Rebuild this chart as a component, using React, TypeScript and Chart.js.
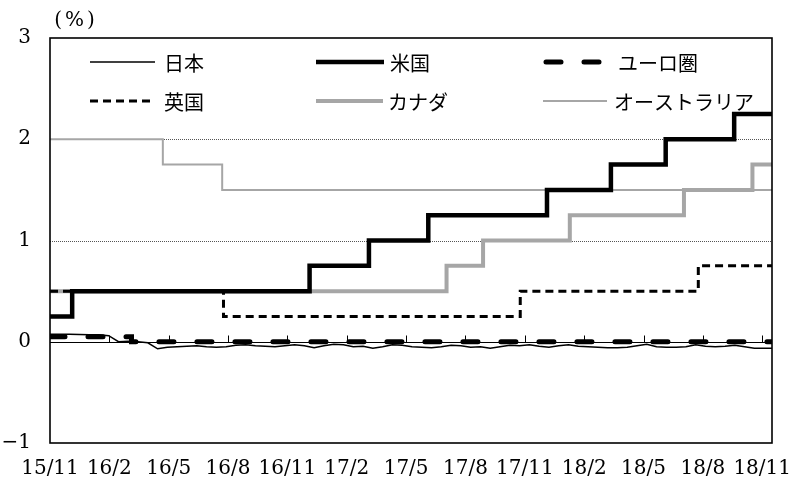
import React, { useEffect, useRef } from 'react';
import { Chart, registerables } from 'chart.js';

Chart.register(...registerables);

// ---------- data ----------
const BASE_DATE = '2015-11-01';
const X_MIN_DATE = '2015-11-12';
const X_MAX_DATE = '2018-11-23';
const TICK_STEP_DAYS = 91;
const X_TICK_LABELS = ['15/11', '16/2', '16/5', '16/8', '16/11', '17/2', '17/5', '17/8', '17/11', '18/2', '18/5', '18/8', '18/11'];
const Y_TICKS = [-1, 0, 1, 2, 3];
const Y_TICK_LABELS = ['−1', '0', '1', '2', '3'];
const Y_UNIT = '(%)';

const SERIES_NAMES = ['日本', '米国', 'ユーロ圏', '英国', 'カナダ', 'オーストラリア'];

// Japan: sampled every 15 days
const JAPAN_START = '2015-11-12';
const JAPAN_STEP_DAYS = 15;
const JAPAN_VALUES = [
  0.075, 0.075, 0.073, 0.072, 0.07, 0.068, 0.06, 0.0, 0.005, 0.0,
  -0.01, -0.07, -0.055, -0.05, -0.045, -0.04, -0.05, -0.055, -0.05, -0.035,
  -0.03, -0.04, -0.045, -0.05, -0.04, -0.03, -0.04, -0.06, -0.04, -0.025,
  -0.03, -0.05, -0.045, -0.065, -0.05, -0.03, -0.035, -0.05, -0.055, -0.06,
  -0.05, -0.035, -0.04, -0.055, -0.05, -0.065, -0.05, -0.035, -0.04, -0.03,
  -0.045, -0.055, -0.04, -0.03, -0.045, -0.05, -0.055, -0.06, -0.06, -0.055,
  -0.04, -0.025, -0.05, -0.055, -0.055, -0.05, -0.03, -0.045, -0.05, -0.045,
  -0.035, -0.05, -0.065, -0.065, -0.065,
];

// Policy rates: value changes on the given dates
const US_DATES = ['2015-11-12', '2015-12-16', '2016-12-14', '2017-03-15', '2017-06-14', '2017-12-13', '2018-03-21', '2018-06-13', '2018-09-26', X_MAX_DATE];
const US_VALUES = [0.25, 0.5, 0.75, 1.0, 1.25, 1.5, 1.75, 2.0, 2.25, 2.25];

const EURO_DATES = ['2015-11-12', '2016-03-16', X_MAX_DATE];
const EURO_VALUES = [0.05, 0.0, 0.0];

const UK_DATES = ['2015-11-12', '2016-08-04', '2017-11-02', '2018-08-02', X_MAX_DATE];
const UK_VALUES = [0.5, 0.25, 0.5, 0.75, 0.75];

const CANADA_DATES = ['2015-11-12', '2017-07-12', '2017-09-06', '2018-01-17', '2018-07-11', '2018-10-24', X_MAX_DATE];
const CANADA_VALUES = [0.5, 0.75, 1.0, 1.25, 1.5, 1.75, 1.75];

const AUSTRALIA_DATES = ['2015-11-12', '2016-05-03', '2016-08-02', X_MAX_DATE];
const AUSTRALIA_VALUES = [2.0, 1.75, 1.5, 1.5];

// ---------- helpers ----------
function dayOf(s: string): number {
  const [y, m, d] = s.split('-').map(Number);
  const [by, bm, bd] = BASE_DATE.split('-').map(Number);
  return Math.round((Date.UTC(y, m - 1, d) - Date.UTC(by, bm - 1, bd)) / 86400000);
}
const X_MIN = dayOf(X_MIN_DATE);
const X_MAX = dayOf(X_MAX_DATE);
const toPoints = (dates: string[], vals: number[]) => dates.map((d, i) => ({ x: dayOf(d), y: vals[i] }));
const japanPoints = JAPAN_VALUES.map((v, i) => ({ x: dayOf(JAPAN_START) + i * JAPAN_STEP_DAYS, y: v }));

const NUM_FONT = "'DejaVu Serif', 'Liberation Serif', serif";
const JP_FONT = "'Noto Sans CJK JP', sans-serif";

const LEGEND_LAYOUT = [
  { x: 90, y: 62, len: 65, tx: 164 },
  { x: 316, y: 62, len: 68, tx: 390 },
  { x: 546, y: 62, len: 60, tx: 618 },
  { x: 90, y: 101, len: 65, tx: 164 },
  { x: 316, y: 101, len: 67, tx: 388 },
  { x: 543, y: 101, len: 64, tx: 614 },
];

const framePlugin = {
  id: 'frame',
  beforeDatasetsDraw(chart: any) {
    const { ctx, chartArea: a, scales } = chart;
    const x = scales.x, y = scales.y;
    ctx.save();
    ctx.lineWidth = 1;
    ctx.strokeStyle = '#555';
    ctx.setLineDash([1, 1]);
    Y_TICKS.filter((v) => v !== 0 && v !== Y_TICKS[0] && v !== Y_TICKS[Y_TICKS.length - 1]).forEach((v) => {
      const py = Math.round(y.getPixelForValue(v)) + 0.5;
      ctx.beginPath();
      ctx.moveTo(a.left, py);
      ctx.lineTo(a.right, py);
      ctx.stroke();
    });
    ctx.setLineDash([]);
    ctx.strokeStyle = '#000';
    const y0 = Math.round(y.getPixelForValue(0)) + 0.5;
    ctx.beginPath();
    ctx.moveTo(a.left, y0);
    ctx.lineTo(a.right, y0);
    x.ticks.forEach((t: any, i: number) => {
      if (i === 0) return;
      const px = Math.round(x.getPixelForValue(t.value)) + 0.5;
      ctx.moveTo(px, y0);
      ctx.lineTo(px, y0 - 7);
    });
    ctx.stroke();
    ctx.restore();
  },
  afterDatasetsDraw(chart: any) {
    const { ctx, chartArea: a } = chart;
    ctx.save();
    ctx.strokeStyle = '#000';
    ctx.lineWidth = 1.6;
    ctx.strokeRect(a.left, a.top, a.right - a.left, a.bottom - a.top);
    ctx.restore();
  },
  afterDraw(chart: any) {
    const { ctx } = chart;
    ctx.save();
    ctx.fillStyle = '#000';
    ctx.font = `20px ${NUM_FONT}`;
    ctx.textAlign = 'center';
    ctx.textBaseline = 'middle';
    try { (ctx as any).letterSpacing = '3px'; } catch (e) { /* ignore */ }
    ctx.fillText(Y_UNIT, 76, 21);
    try { (ctx as any).letterSpacing = '0px'; } catch (e) { /* ignore */ }
    chart.data.datasets.forEach((ds: any, i: number) => {
      const L = LEGEND_LAYOUT[i];
      ctx.save();
      ctx.strokeStyle = ds.borderColor;
      ctx.lineWidth = ds.borderWidth;
      ctx.setLineDash(ds.borderDash || []);
      ctx.lineCap = ds.borderCapStyle || 'butt';
      ctx.beginPath();
      ctx.moveTo(L.x, L.y);
      ctx.lineTo(L.x + L.len, L.y);
      ctx.stroke();
      ctx.restore();
      ctx.font = `20px ${JP_FONT}`;
      ctx.textAlign = 'left';
      ctx.textBaseline = 'middle';
      ctx.fillText(ds.label, L.tx, L.y + 1);
    });
    ctx.restore();
  },
};

export default function App() {
  const ref = useRef<HTMLCanvasElement>(null);
  useEffect(() => {
    if (!ref.current) return;
    const common = { pointRadius: 0, pointHoverRadius: 0, tension: 0, fill: false };
    const chart = new Chart(ref.current, {
      type: 'line',
      data: {
        datasets: [
          { ...common, label: SERIES_NAMES[0], data: japanPoints, borderColor: '#000', borderWidth: 1.5 },
          { ...common, label: SERIES_NAMES[1], data: toPoints(US_DATES, US_VALUES), borderColor: '#000', borderWidth: 4.5, stepped: true },
          { ...common, label: SERIES_NAMES[2], data: toPoints(EURO_DATES, EURO_VALUES), borderColor: '#000', borderWidth: 5, borderDash: [15, 23], borderCapStyle: 'round', stepped: true },
          { ...common, label: SERIES_NAMES[3], data: toPoints(UK_DATES, UK_VALUES), borderColor: '#000', borderWidth: 3, borderDash: [8, 5], stepped: true },
          { ...common, label: SERIES_NAMES[4], data: toPoints(CANADA_DATES, CANADA_VALUES), borderColor: '#a6a6a6', borderWidth: 4, stepped: true },
          { ...common, label: SERIES_NAMES[5], data: toPoints(AUSTRALIA_DATES, AUSTRALIA_VALUES), borderColor: '#a6a6a6', borderWidth: 2, stepped: true },
        ] as any,
      },
      options: {
        responsive: false,
        animation: false,
        events: [],
        layout: { padding: { top: 38, right: 17, left: 0, bottom: 0 } },
        plugins: { legend: { display: false }, tooltip: { enabled: false }, title: { display: false } },
        scales: {
          x: {
            type: 'linear',
            min: X_MIN,
            max: X_MAX,
            grid: { display: false, drawTicks: false },
            border: { display: false },
            afterBuildTicks: (s: any) => {
              s.ticks = X_TICK_LABELS.map((_, i) => ({ value: X_MIN + i * TICK_STEP_DAYS }));
            },
            afterFit: (s: any) => {
              s.height = 39;
              s.paddingLeft = 0;
              s.paddingRight = 0;
            },
            ticks: {
              autoSkip: false,
              maxRotation: 0,
              minRotation: 0,
              padding: 14,
              color: '#000',
              font: { family: NUM_FONT, size: 20 },
              callback: (_v: any, i: number) => X_TICK_LABELS[i],
            },
          },
          y: {
            type: 'linear',
            min: Y_TICKS[0],
            max: Y_TICKS[Y_TICKS.length - 1],
            grid: { display: false, drawTicks: false },
            border: { display: false },
            afterBuildTicks: (s: any) => {
              s.ticks = Y_TICKS.map((v) => ({ value: v }));
            },
            afterFit: (s: any) => {
              s.width = 50;
              s.paddingTop = 0;
              s.paddingBottom = 0;
            },
            ticks: {
              padding: 19,
              color: '#000',
              font: { family: NUM_FONT, size: 20 },
              callback: (_v: any, i: number) => Y_TICK_LABELS[i],
            },
          },
        },
      } as any,
      plugins: [framePlugin],
    });
    return () => chart.destroy();
  }, []);
  return (
    <div style={{ position: 'absolute', left: 0, top: 0, width: 789, height: 482, background: '#fff' }}>
      <canvas ref={ref} width={789} height={482} style={{ display: 'block' }} />
    </div>
  );
}
